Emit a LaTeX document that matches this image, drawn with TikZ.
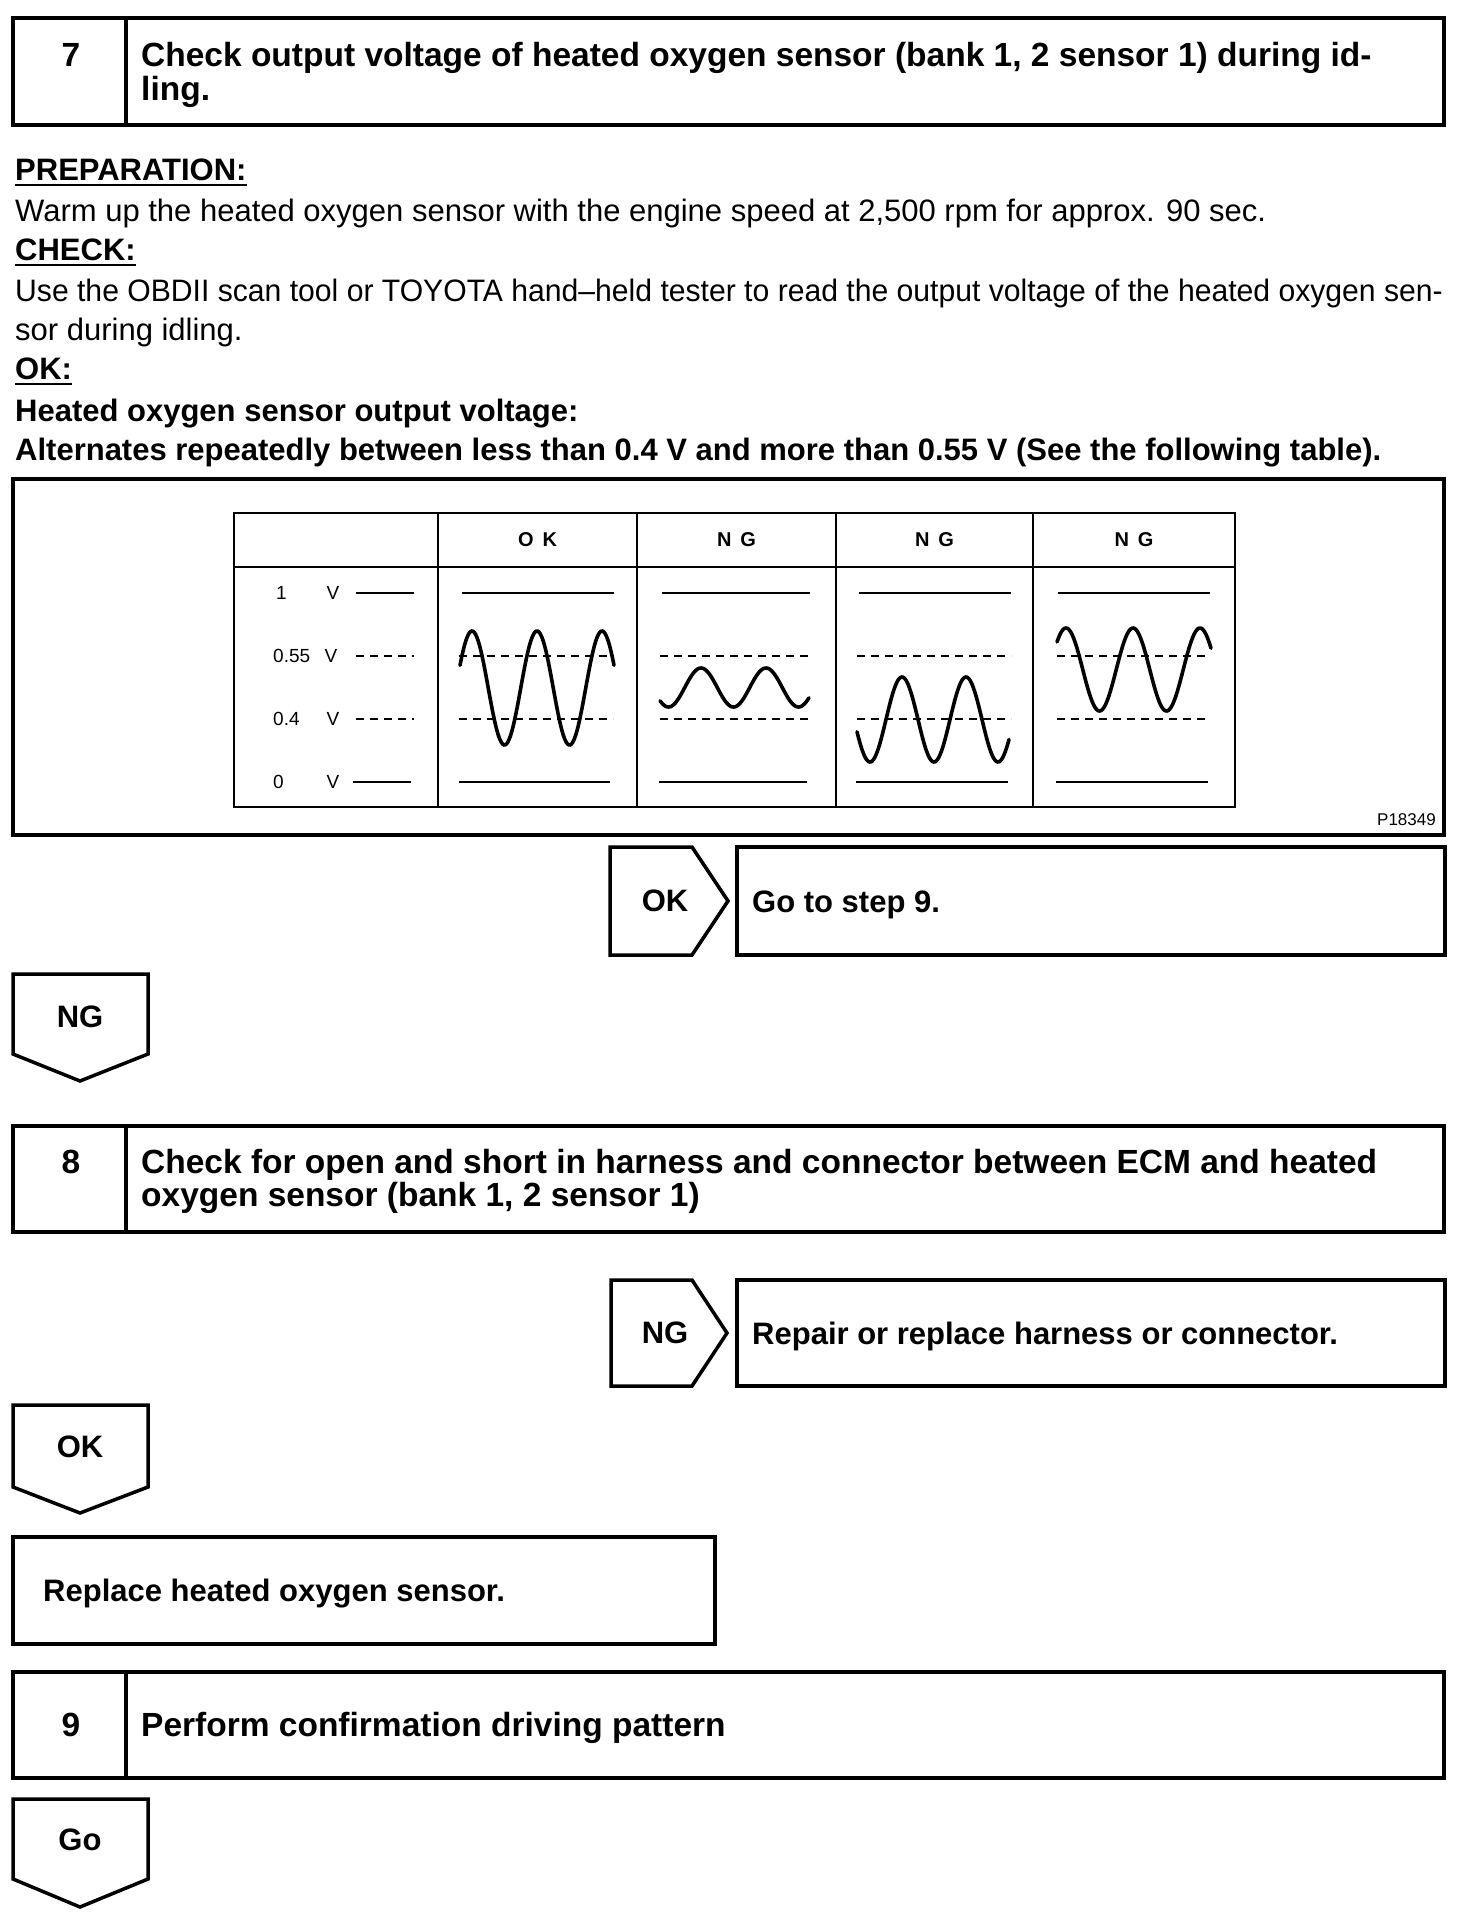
\documentclass[tikz,border=0pt]{standalone}
\usepackage{fontspec}
\setmainfont{Liberation Sans}
\begin{document}
\begin{tikzpicture}[x=1pt,y=-1pt,
  box/.style={line width=3.5pt, line join=miter},
  txt/.style={inner sep=0pt, anchor=base west, font=\fontsize{31}{37}\selectfont},
  btxt/.style={inner sep=0pt, anchor=base west, font=\fontsize{31}{37}\selectfont\bfseries},
  blab/.style={inner sep=0pt, font=\fontsize{31}{37}\selectfont\bfseries},
  ttl/.style={inner sep=0pt, anchor=base west, font=\fontsize{33.5}{40}\selectfont\bfseries},
  num/.style={inner sep=0pt, anchor=base, font=\fontsize{33.5}{40}\selectfont\bfseries},
  ul/.style={line width=2.5pt},
  tbl/.style={line width=2.8pt},
  lvl/.style={line width=2.4pt},
  dlvl/.style={line width=2.4pt, dash pattern=on 8pt off 6pt},
  wave/.style={line width=3.6pt, line cap=round},
  hdr/.style={inner sep=0pt, font=\fontsize{20}{24}\selectfont\bfseries},
  lab/.style={inner sep=0pt, font=\fontsize{19}{22}\selectfont},
]
\useasboundingbox (0,0) rectangle (1472,1922);
\fill[white] (0,0) rectangle (1472,1922);

% ---- Step 7 ----
\draw[box] (13,18) rectangle (1444,125);
\draw[box] (126,18) -- (126,125);
\node[num] (n7) at (71,66) {7};
\node[ttl] (t7a) at (141,66) {Check output voltage of heated oxygen sensor (bank 1, 2 sensor 1) during id-};
\node[ttl] (t7b) at (141,100) {ling.};

% ---- text block ----
\node[btxt] (prep) at (15,180) {PREPARATION:};
\draw[ul] ([yshift=-5pt]prep.base west) -- ([yshift=-5pt]prep.base east);
\node[txt] (warm) at (15,221) {Warm up the heated oxygen sensor with the engine speed at 2,500 rpm for approx. 90 sec.};
\node[btxt] (chk) at (15,260) {CHECK:};
\draw[ul] ([yshift=-5pt]chk.base west) -- ([yshift=-5pt]chk.base east);
\node[txt] (use1) at (15,301) {\scalebox{0.972}[1]{Use the OBDII scan tool or TOYOTA hand–held tester to read the output voltage of the heated oxygen sen-}};
\node[txt] (use2) at (15,340) {sor during idling.};
\node[btxt] (okh) at (15,379) {OK:};
\draw[ul] ([yshift=-5pt]okh.base west) -- ([yshift=-5pt]okh.base east);
\node[btxt] (hos) at (15,421) {Heated oxygen sensor output voltage:};
\node[btxt] (alt) at (15,460) {Alternates repeatedly between less than 0.4 V and more than 0.55 V (See the following table).};

% ---- figure ----
\draw[box] (13,479) rectangle (1444,835);
\draw[tbl] (234,513) rectangle (1235,807);
\draw[tbl] (234,567) -- (1235,567);
\foreach \cx in {438,637,836,1033} \draw[tbl] (\cx,513) -- (\cx,807);
\node[hdr] (hok) at (537.5,540) {O\hspace{9pt}K};
\node[hdr] (hng1) at (736.5,540) {N\hspace{9pt}G};
\node[hdr] (hng2) at (934.5,540) {N\hspace{9pt}G};
\node[hdr] (hng3) at (1134,540) {N\hspace{9pt}G};

\node[lab, anchor=west] (l1) at (276,593) {1};
\node[lab] (v1) at (333,593) {V};
\node[lab, anchor=west] (l055) at (273,656) {0.55};
\node[lab] (v055) at (331,656) {V};
\node[lab, anchor=west] (l04) at (273,719) {0.4};
\node[lab] (v04) at (333,719) {V};
\node[lab, anchor=west] (l0) at (273,782) {0};
\node[lab] (v0) at (333,782) {V};
\draw[lvl] (356,593) -- (414,593);
\draw[dlvl] (356,656) -- (414,656);
\draw[dlvl] (356,719) -- (414,719);
\draw[lvl] (353,782) -- (411,782);

% OK column
\draw[lvl] (462,593) -- (614,593);
\draw[dlvl] (459,656) -- (613,656);
\draw[dlvl] (459,719) -- (613,719);
\draw[lvl] (459,782) -- (610,782);
\draw[wave] plot[domain=460:614, samples=120, smooth] (\x, {688 - 57*cos(5.53846*(\x-472))});

% NG 1
\draw[lvl] (662,593) -- (810,593);
\draw[dlvl] (660,656) -- (810,656);
\draw[dlvl] (660,719) -- (810,719);
\draw[lvl] (659,782) -- (807,782);
\draw[wave] plot[domain=660:809, samples=120, smooth] (\x, {687.5 - 19.5*cos(5.53846*(\x-701))});

% NG 2
\draw[lvl] (859,593) -- (1011,593);
\draw[dlvl] (857,656) -- (1011,656);
\draw[dlvl] (857,719) -- (1011,719);
\draw[lvl] (856,782) -- (1008,782);
\draw[wave] plot[domain=857:1009, samples=120, smooth] (\x, {719.5 - 42.5*cos(5.625*(\x-902))});

% NG 3
\draw[lvl] (1058,593) -- (1210,593);
\draw[dlvl] (1057,656) -- (1210,656);
\draw[dlvl] (1057,719) -- (1210,719);
\draw[lvl] (1056,782) -- (1208,782);
\draw[wave] plot[domain=1057:1211, samples=120, smooth] (\x, {669.5 - 41.5*cos(5.37313*(\x-1066))});

\node[inner sep=0pt, anchor=east, font=\fontsize{17}{20}\selectfont] (pid) at (1436,820) {P18349};

% ---- OK -> Go to step 9 ----
\draw[box] (610,847) -- (692,847) -- (728,901) -- (692,955) -- (610,955) -- cycle;
\node[blab] (okr) at (665,901) {OK};
\draw[box] (737,847) rectangle (1445,955);
\node[btxt] (go9) at (752,912) {Go to step 9.};

% ---- NG down ----
\draw[box] (13,974) -- (148,974) -- (148,1054) -- (80,1081) -- (13,1054) -- cycle;
\node[blab] (ngd) at (80,1017) {NG};

% ---- Step 8 ----
\draw[box] (13,1126) rectangle (1444,1232);
\draw[box] (126,1126) -- (126,1232);
\node[num] (n8) at (71,1173) {8};
\node[ttl] (t8a) at (141,1173) {Check for open and short in harness and connector between ECM and heated};
\node[ttl] (t8b) at (141,1206) {oxygen sensor (bank 1, 2 sensor 1)};

% ---- NG -> Repair ----
\draw[box] (611,1280) -- (692,1280) -- (727,1333) -- (692,1386) -- (611,1386) -- cycle;
\node[blab] (ngr) at (665,1333) {NG};
\draw[box] (737,1280) rectangle (1445,1386);
\node[btxt] (rep) at (752,1344) {Repair or replace harness or connector.};

% ---- OK down ----
\draw[box] (13,1405) -- (148,1405) -- (148,1487) -- (80,1513) -- (13,1487) -- cycle;
\node[blab] (okd) at (80,1447) {OK};

% ---- Replace ----
\draw[box] (13,1537) rectangle (715,1644);
\node[btxt] (repl) at (43,1601) {Replace heated oxygen sensor.};

% ---- Step 9 ----
\draw[box] (13,1672) rectangle (1444,1778);
\draw[box] (126,1672) -- (126,1778);
\node[num] (n9) at (71,1736) {9};
\node[ttl] (t9) at (141,1736) {Perform confirmation driving pattern};

% ---- Go down ----
\draw[box] (13,1799) -- (148,1799) -- (148,1879) -- (80,1907) -- (13,1879) -- cycle;
\node[blab] (god) at (80,1840) {Go};
\end{tikzpicture}
\end{document}
